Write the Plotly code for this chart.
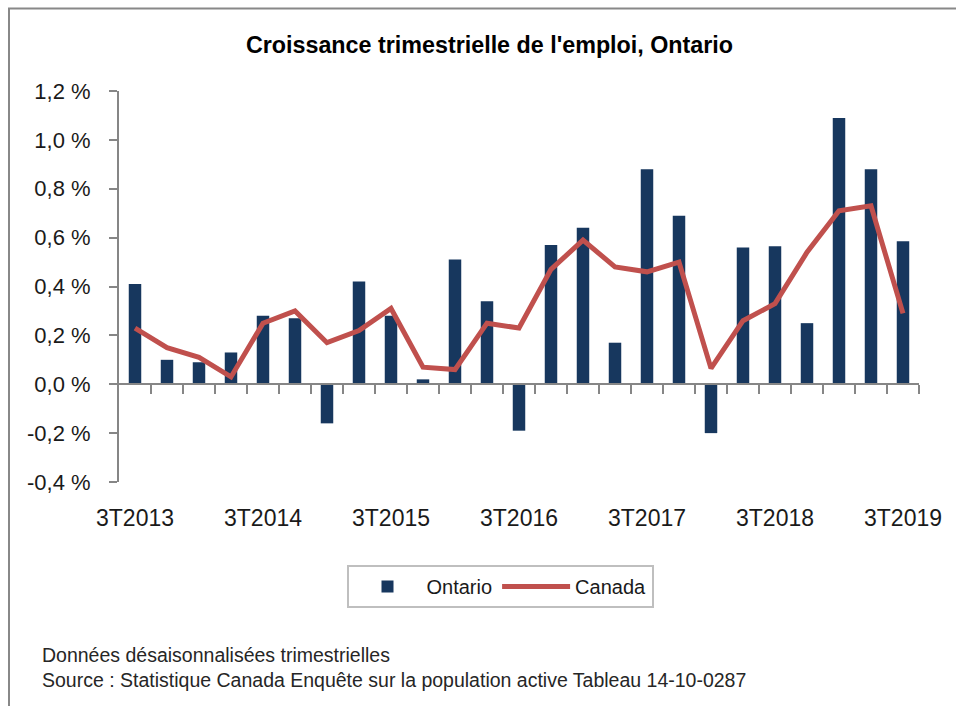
import plotly.graph_objects as go

quarters = ["3T2013", "4T2013", "1T2014", "2T2014", "3T2014", "4T2014", "1T2015", "2T2015",
            "3T2015", "4T2015", "1T2016", "2T2016", "3T2016", "4T2016", "1T2017", "2T2017",
            "3T2017", "4T2017", "1T2018", "2T2018", "3T2018", "4T2018", "1T2019", "2T2019",
            "3T2019"]
ontario = [0.41, 0.10, 0.09, 0.13, 0.28, 0.27, -0.16, 0.42, 0.28, 0.02, 0.51, 0.34, -0.19,
           0.57, 0.64, 0.17, 0.88, 0.69, -0.20, 0.56, 0.565, 0.25, 1.09, 0.88, 0.585]
canada = [0.23, 0.15, 0.11, 0.03, 0.25, 0.30, 0.17, 0.22, 0.31, 0.07, 0.06, 0.25, 0.23,
          0.47, 0.59, 0.48, 0.46, 0.50, 0.065, 0.26, 0.33, 0.54, 0.71, 0.73, 0.29]
y_ticks = [-0.4, -0.2, 0.0, 0.2, 0.4, 0.6, 0.8, 1.0, 1.2]
y_tick_text = ["-0,4 %", "-0,2 %", "0,0 %", "0,2 %", "0,4 %", "0,6 %", "0,8 %", "1,0 %", "1,2 %"]

title = "Croissance trimestrielle de l'emploi, Ontario"
note1 = "Données désaisonnalisées trimestrielles"
note2 = "Source : Statistique Canada Enquête sur la population active Tableau 14-10-0287"

idx = list(range(len(quarters)))
label_idx = idx[::4]
boundaries = [i + 0.5 for i in idx]

FONT = "Liberation Sans, Arial, sans-serif"
AXIS = "#868686"

fig = go.Figure()
fig.add_trace(go.Bar(x=idx, y=ontario, name="Ontario", marker_color="#17375E",
                     marker_line_width=0, xaxis="x", yaxis="y",
                     hovertext=quarters))
fig.add_trace(go.Scatter(x=idx, y=canada, name="Canada", mode="lines",
                         line=dict(color="#C0504D", width=5), xaxis="x2", yaxis="y",
                         hovertext=quarters))

fig.update_layout(
    width=956, height=706,
    margin=dict(l=119, r=37, t=91, b=224),
    paper_bgcolor="white", plot_bgcolor="white",
    font=dict(family=FONT, color="#1a1a1a"),
    bargap=0.61,
    showlegend=True,
    title=dict(text="<b>" + title + "</b>", x=489.5 / 956, xanchor="center",
               y=1 - 45 / 706, yanchor="middle",
               font=dict(family=FONT, size=23.3, color="#000000")),
    xaxis=dict(range=[-0.5, len(quarters) - 0.5], tickmode="array",
               tickvals=label_idx, ticktext=[quarters[i] for i in label_idx],
               showline=False, showgrid=False, zeroline=False, ticks="",
               ticklabelstandoff=20,
               tickfont=dict(family=FONT, size=23, color="#1a1a1a")),
    xaxis2=dict(range=[-0.5, len(quarters) - 0.5], overlaying="x", anchor="free",
                position=0.25, showline=True, linecolor=AXIS, linewidth=2,
                ticks="outside", ticklen=9, tickwidth=2, tickcolor=AXIS,
                tickmode="array", tickvals=boundaries, showticklabels=False,
                showgrid=False, zeroline=False),
    yaxis=dict(range=[-0.4, 1.2], tickmode="array", tickvals=y_ticks,
               ticktext=y_tick_text, showline=True, linecolor=AXIS, linewidth=2,
               ticks="outside", ticklen=8, tickwidth=2, tickcolor=AXIS,
               showgrid=False, zeroline=False, ticklabelstandoff=14,
               tickfont=dict(family=FONT, size=22, color="#1a1a1a")),
    legend=dict(orientation="h", x=(500 - 119) / 800, xanchor="center",
                y=(482 - 565) / 391, yanchor="top",
                bordercolor="#BFBFBF", borderwidth=2, bgcolor="white",
                font=dict(family=FONT, size=20, color="#1a1a1a"),
                itemwidth=68, tracegroupgap=0),
)

fig.add_annotation(text=note1, xref="paper", yref="paper", x=(40 - 119) / 800,
                   y=(482 - 655) / 391, xanchor="left", yanchor="middle", showarrow=False,
                   font=dict(family=FONT, size=19.5, color="#262626"))
fig.add_annotation(text=note2, xref="paper", yref="paper", x=(40 - 119) / 800,
                   y=(482 - 680) / 391, xanchor="left", yanchor="middle", showarrow=False,
                   font=dict(family=FONT, size=19.5, color="#262626"))

# outer frame of the chart area (left and top edges visible)
fig.add_shape(type="rect", xref="paper", yref="paper",
              x0=(9 - 119) / 800, x1=1.2, y0=-0.8, y1=(482 - 8.5) / 391,
              line=dict(color="#888888", width=2), fillcolor="rgba(0,0,0,0)", layer="below")

fig.write_html("out.html")
